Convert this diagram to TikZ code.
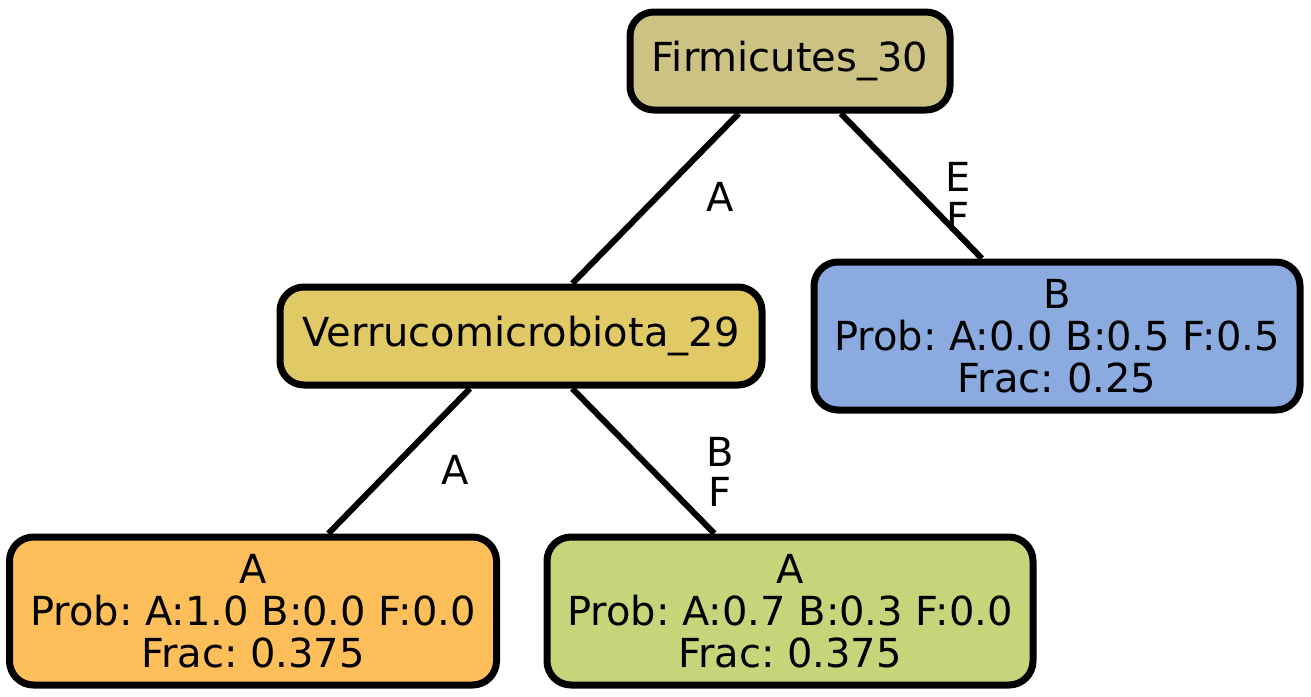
\documentclass[tikz,border=0pt]{standalone}
\usepackage{fontspec}
\setmainfont{DejaVu Sans}
\frenchspacing
\definecolor{cfirm}{RGB}{204,194,131}
\definecolor{cverr}{RGB}{225,201,102}
\definecolor{corange}{RGB}{254,191,90}
\definecolor{cgreen}{RGB}{198,213,122}
\definecolor{cblue}{RGB}{138,170,224}
\tikzset{
  box/.style={draw=black, line width=7pt, rounded corners=24pt, align=center,
    font=\fontsize{40}{42}\selectfont, inner sep=0pt},
  inner/.style={box, minimum height=98pt},
  leaf/.style={box, minimum width=486pt, minimum height=148pt},
  edge/.style={draw=black, line width=6pt},
  elabel/.style={font=\fontsize{40}{40}\selectfont, align=center, inner sep=0pt}
}
\begin{document}
\begin{tikzpicture}[x=1pt,y=-1pt]
\useasboundingbox (0,0) rectangle (1311,696);
\node[inner, fill=cfirm, minimum width=320pt] (f) at (790,61) {Firmicutes\_30};
\node[inner, fill=cverr, minimum width=482pt] (v) at (521,336) {Verrucomicrobiota\_29};
\node[leaf, fill=cblue] (b) at (1057,336) {B\\Prob: A:0.0 B:0.5 F:0.5\\Frac: 0.25};
\node[leaf, fill=corange, minimum width=487pt] (o) at (253,611) {A\\Prob: A:1.0 B:0.0 F:0.0\\Frac: 0.375};
\node[leaf, fill=cgreen] (g) at (790,611) {A\\Prob: A:0.7 B:0.3 F:0.0\\Frac: 0.375};
\draw[edge] (f) -- (v);
\draw[edge] (f) -- (b);
\draw[edge] (v) -- (o);
\draw[edge] (v) -- (g);
\node[elabel] (l1) at (720,197) {A};
\node[elabel] (l2) at (958,197) {E\\F};
\node[elabel] (l3) at (455,470) {A};
\node[elabel] (l4) at (720,472) {B\\F};
\end{tikzpicture}
\end{document}
